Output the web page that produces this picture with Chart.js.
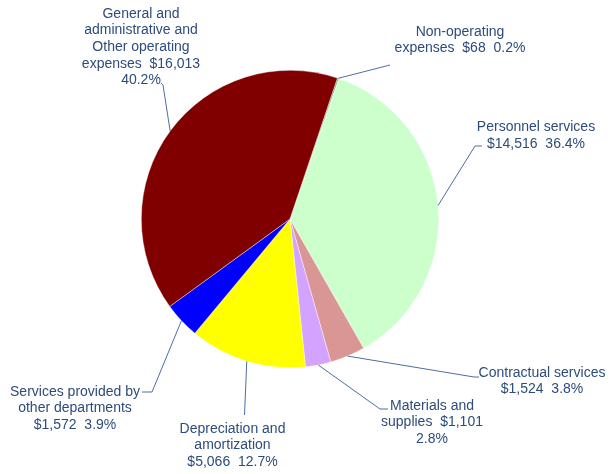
<!DOCTYPE html>
<html>
<head>
<meta charset="utf-8">
<script src="https://cdn.jsdelivr.net/npm/chart.js@4"></script>
<style>
  html, body { margin: 0; padding: 0; background: #ffffff; }
  #wrap { width: 616px; height: 474px; }
</style>
</head>
<body>
<div id="wrap"><canvas id="c" width="616" height="474"></canvas></div>
<script>
// ---- data ----
const categories = [
  "Non-operating expenses",
  "Personnel services",
  "Contractual services",
  "Materials and supplies",
  "Depreciation and amortization",
  "Services provided by other departments",
  "General and administrative and Other operating expenses"
];
const values = [68, 14516, 1524, 1101, 5066, 1572, 16013];
const sliceColors = ["#6F9A6A", "#CCFFCC", "#DA9694", "#D4A2FF", "#FFFF00", "#0000FF", "#800000"];

// ---- label layout (positions relative to pie centre) ----
// words: words per name line; mode: how value/percent attach
const labelLayout = [
  { words: [1, 1],       mode: "inlineBoth",  path: [[100, -154]],               text: [170, -187] },
  { words: [2],          mode: "newline",     path: [[185, -73], [192, -73]],    text: [246, -91.5] },
  { words: [2],          mode: "newline",     path: [[184, 158], [189, 158]],    text: [252, 154] },
  { words: [2, 1],       mode: "inlineValue", path: [[90, 190], [98, 190]],      text: [142, 187] },
  { words: [2, 1],       mode: "newline",     path: [[-45.5, 196]],              text: [-57.5, 210] },
  { words: [3, 2],       mode: "newline",     path: [[-138, 173], [-148, 173]],  text: [-215, 173] },
  { words: [2, 2, 2, 1], mode: "inlineValue", path: [[-127, -134], [-129, -136]], text: [-149, -205] }
];
const lineHeight = 16.6;
const textColor = "#2D4C7C";
const leaderColor = "#4E6F9E";

const total = values.reduce((a, b) => a + b, 0);

function buildLines(i) {
  const words = categories[i].split(" ");
  const lay = labelLayout[i];
  const lines = [];
  let k = 0;
  lay.words.forEach(n => { lines.push(words.slice(k, k + n).join(" ")); k += n; });
  const val = "$" + values[i].toLocaleString("en-US");
  const pct = (values[i] / total * 100).toFixed(1) + "%";
  if (lay.mode === "inlineBoth") {
    lines[lines.length - 1] += "  " + val + "  " + pct;
  } else if (lay.mode === "inlineValue") {
    lines[lines.length - 1] += "  " + val;
    lines.push(pct);
  } else {
    lines.push(val + "  " + pct);
  }
  return lines;
}

const labelPlugin = {
  id: "leaderLabels",
  afterDatasetsDraw(chart) {
    const ctx = chart.ctx;
    const meta = chart.getDatasetMeta(0);
    meta.data.forEach((arc, i) => {
      const p = arc.getProps(["x", "y", "startAngle", "endAngle", "outerRadius"], true);
      const mid = (p.startAngle + p.endAngle) / 2;
      const sx = p.x + Math.cos(mid) * p.outerRadius;
      const sy = p.y + Math.sin(mid) * p.outerRadius;
      const lay = labelLayout[i];
      ctx.save();
      ctx.strokeStyle = leaderColor;
      ctx.lineWidth = 1;
      ctx.beginPath();
      ctx.moveTo(sx, sy);
      lay.path.forEach(pt => ctx.lineTo(p.x + pt[0], p.y + pt[1]));
      ctx.stroke();
      ctx.fillStyle = textColor;
      ctx.font = "14px 'Liberation Sans', Arial, sans-serif";
      ctx.textAlign = "center";
      ctx.textBaseline = "middle";
      const lines = buildLines(i);
      lines.forEach((ln, j) => {
        ctx.fillText(ln, p.x + lay.text[0], p.y + lay.text[1] + j * lineHeight);
      });
      ctx.restore();
    });
  }
};

new Chart(document.getElementById("c"), {
  type: "pie",
  data: {
    labels: categories,
    datasets: [{
      data: values,
      backgroundColor: sliceColors,
      borderColor: "rgba(255,255,255,0.7)",
      borderWidth: 0.6
    }]
  },
  options: {
    responsive: false,
    animation: false,
    rotation: 18.6,
    layout: { padding: { top: 70, bottom: 106, left: 141, right: 177 } },
    plugins: {
      legend: { display: false },
      tooltip: { enabled: false }
    }
  },
  plugins: [labelPlugin]
});
</script>
</body>
</html>
